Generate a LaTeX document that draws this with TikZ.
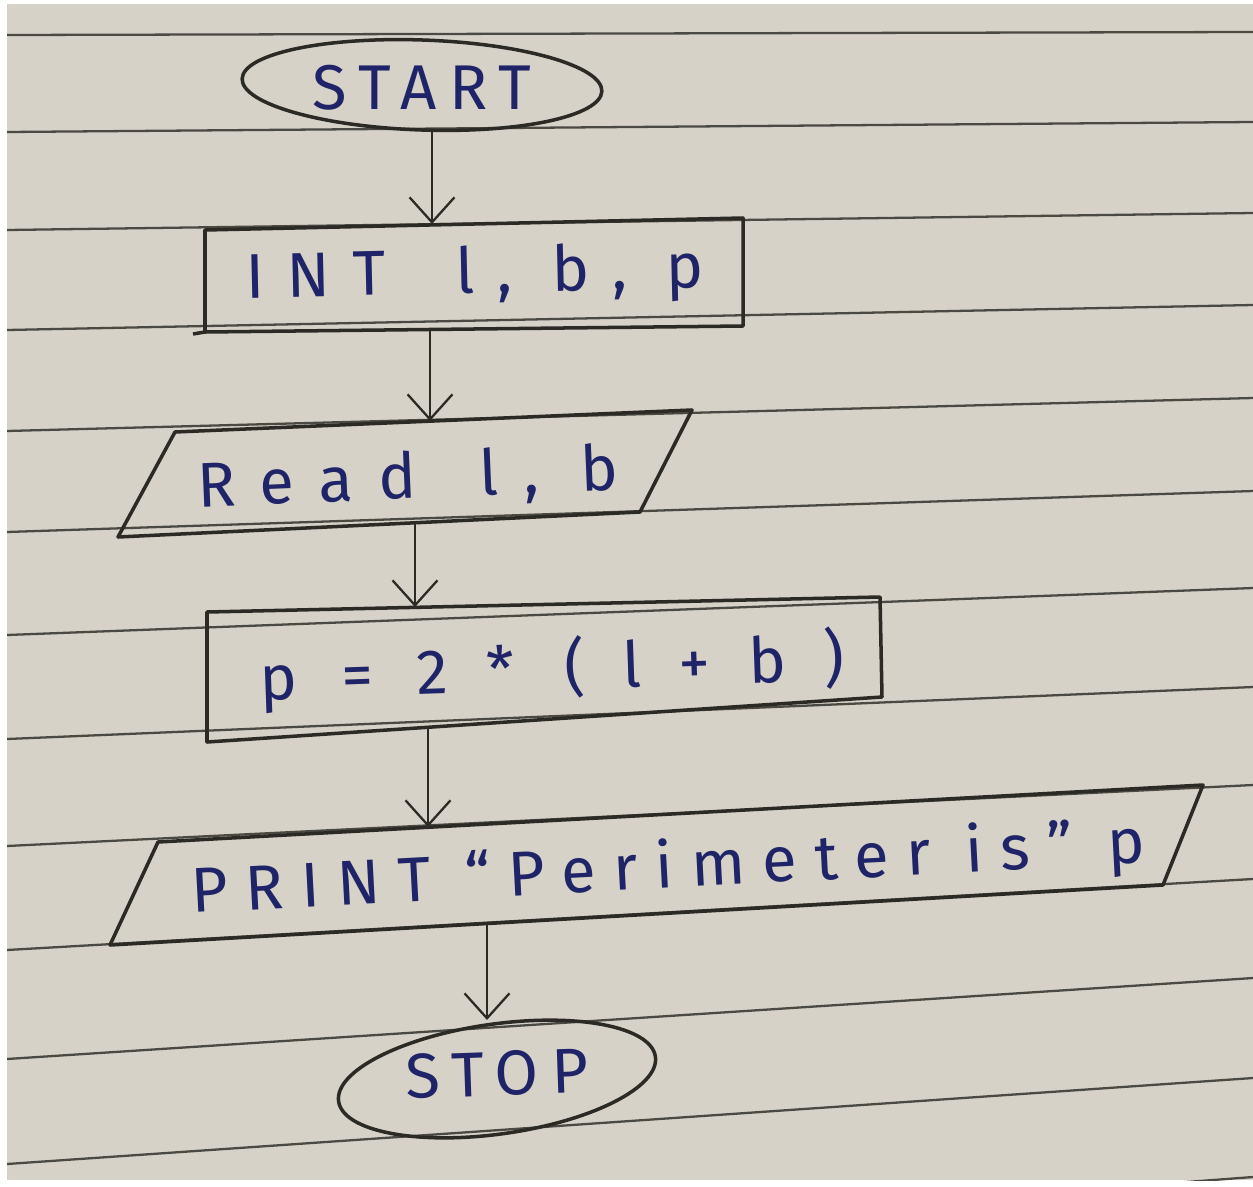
\documentclass[tikz,border=0pt]{standalone}
\usepackage{fontspec}
\newfontfamily\hand[LetterSpace=20]{Fira Sans}
\usetikzlibrary{arrows.meta,shapes.geometric}
\definecolor{paper}{HTML}{D6D2C8}
\definecolor{rulec}{HTML}{4A4942}
\definecolor{ink}{HTML}{2B2A24}
\definecolor{blueink}{HTML}{1F2468}
\begin{document}
\begin{tikzpicture}[x=0.02cm,y=-0.02cm,
  outline/.style={draw=ink,line width=2pt,line join=round},
  ruled/.style={draw=rulec,line width=1.3pt},
  arr/.style={draw=ink,line width=1.3pt,-{Straight Barb[length=0.5cm,width=0.9cm]}},
  lbl/.style={text=blueink,font=\hand\fontsize{36}{40}\selectfont,inner sep=0pt}]
\useasboundingbox (0,0) rectangle (1253,1186);
\fill[white] (0,0) rectangle (1253,1186);
\fill[paper] (7,4) rectangle (1253,1180);
% ruled lines of the paper
\begin{scope}
\clip (7,4) rectangle (1253,1180);
\foreach \a/\b in {35/32, 132/122, 230/213, 330/305, 431/398, 532/491, 635/588, 739/687, 846/785, 950/879, 1059/978, 1164/1078, 1270/1177}
  \draw[ruled] (7,\a) -- (1253,\b);
\end{scope}
% START
\node[outline,ellipse,minimum width=7.2cm,minimum height=1.8cm,inner sep=0pt,rotate=-2] (start) at (422,85) {};
\node[lbl] (startT) at (422,88) {START};
% INT l, b, p
\draw[outline] (205,230) -- (743,218) -- (743,326) -- (205,332) -- cycle;
\draw[outline] (193,334) -- (205,332);
\node[lbl,rotate=1.3] (intT) at (475,276) {\addfontfeature{LetterSpace=36}INT\hspace{1.1em}l, b, p};
% Read l, b
\draw[outline] (175,432) -- (692,410) -- (640,512) -- (118,537) -- cycle;
\node[lbl,rotate=2.4] (readT) at (408,480) {\addfontfeature{LetterSpace=40}Read\hspace{1em}l, b};
% p = 2*(l+b)
\draw[outline] (207,612) -- (880,597) -- (882,697) -- (207,742) -- cycle;
\node[lbl,rotate=2] (procT) at (552,670) {\addfontfeature{LetterSpace=60}p\hspace{0.7em}=\hspace{0.7em}2*\hspace{0.8em}(l+b)};
% PRINT
\draw[outline] (158,842) -- (1203,785) -- (1163,885) -- (110,945) -- cycle;
\node[lbl,rotate=3] (printT) at (668,870) {\addfontfeature{LetterSpace=28}PRINT “Perimeter is” p};
% STOP
\node[outline,ellipse,minimum width=6.4cm,minimum height=2.2cm,inner sep=0pt,rotate=8] (stop) at (497,1079) {};
\node[lbl,rotate=2] (stopT) at (497,1074) {STOP};
% connector end points
\coordinate (startB) at (432,130);
\coordinate (intN) at (432,224);
\coordinate (intS) at (430,330);
\coordinate (readN) at (430,421);
\coordinate (readS) at (415,523);
\coordinate (procN) at (415,607);
\coordinate (procS) at (428,727);
\coordinate (printN) at (428,827);
\coordinate (printS) at (487,924);
\coordinate (stopN) at (487,1020);
\draw[arr] (startB) -- (intN);
\draw[arr] (intS) -- (readN);
\draw[arr] (readS) -- (procN);
\draw[arr] (procS) -- (printN);
\draw[arr] (printS) -- (stopN);
\end{tikzpicture}
\end{document}
